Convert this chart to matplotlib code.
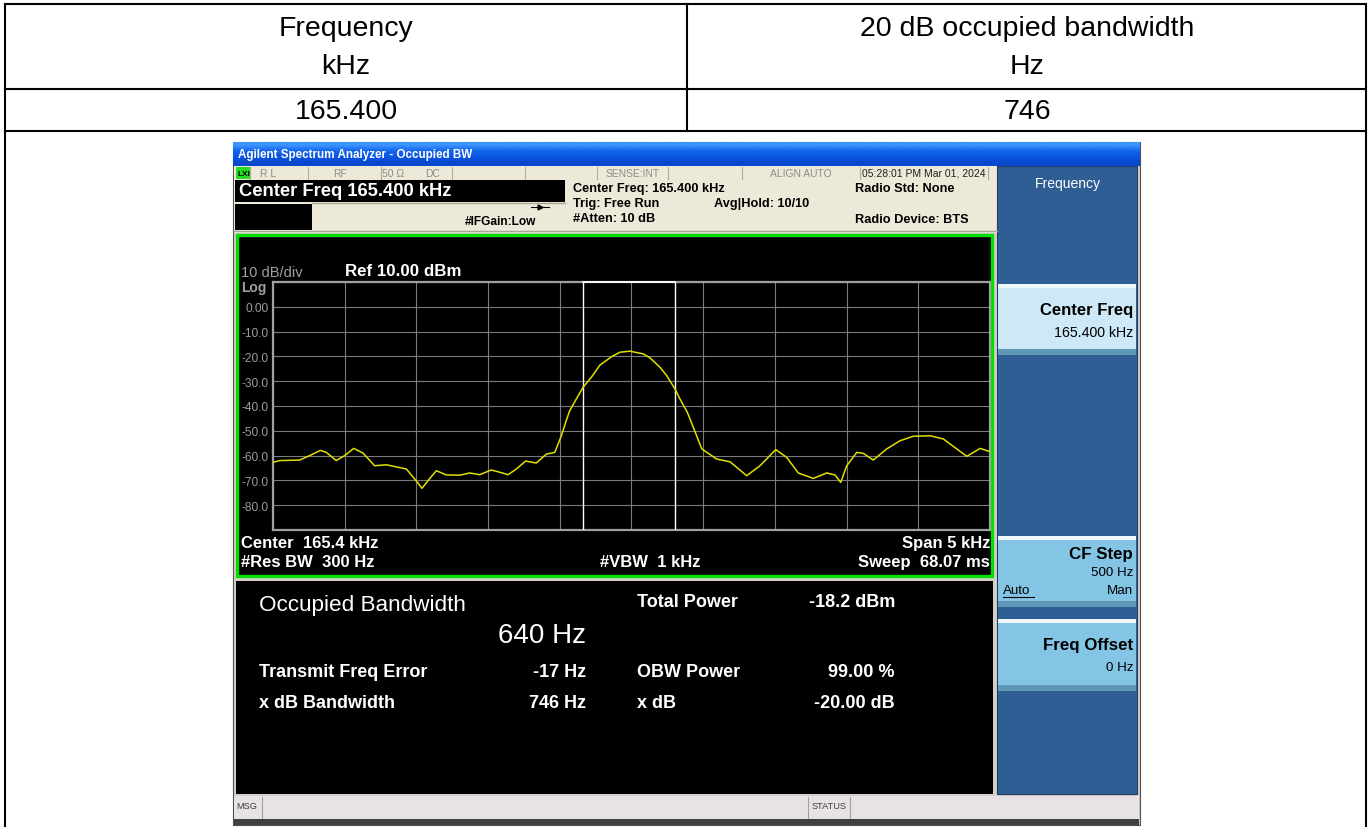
import numpy as np
import matplotlib
matplotlib.use("Agg")
import matplotlib.pyplot as plt
from matplotlib.patches import Rectangle

plt.rcParams['font.family'] = ['Liberation Sans', 'DejaVu Sans']

# --- table data ---
col_headers = [("Frequency", "kHz"), ("20 dB occupied bandwidth", "Hz")]
row_values = ["165.400", "746"]

# --- analyzer settings (as shown on screen) ---
center_khz = 165.4
span_khz = 5.0
ref_dbm = 10.0
db_per_div = 10.0
obw_khz = 0.640
freq_error_khz = -0.017

# trace (kHz, dBm)
trace_freq_khz = [162.900, 162.947, 163.086, 163.156, 163.230, 163.272, 163.341, 163.400,
                  163.463, 163.528, 163.609, 163.690, 163.830, 163.888, 163.939, 163.981,
                  164.039, 164.109, 164.202, 164.272, 164.341, 164.422, 164.481, 164.539,
                  164.597, 164.662, 164.736, 164.806, 164.865, 164.911, 164.945, 164.969,
                  165.015, 165.062, 165.120, 165.180, 165.264, 165.320, 165.390, 165.482,
                  165.529, 165.599, 165.646, 165.703, 165.738, 165.789, 165.808, 165.890,
                  165.994, 166.087, 166.203, 166.296, 166.406, 166.482, 166.563, 166.668,
                  166.761, 166.819, 166.859, 166.901, 166.971, 167.017, 167.086, 167.180,
                  167.273, 167.365, 167.482, 167.575, 167.668, 167.738, 167.831, 167.900]
trace_level_dbm = [-62.7, -62.0, -61.8, -60.0, -57.9, -58.7, -62.0, -60.0,
                   -57.1, -59.0, -64.1, -63.7, -65.4, -69.4, -73.2, -70.1,
                   -66.1, -67.8, -67.9, -67.0, -67.7, -65.8, -66.7, -67.7,
                   -65.4, -62.2, -63.0, -59.4, -58.7, -52.0, -45.9, -41.9,
                   -37.2, -32.5, -28.4, -23.5, -20.0, -18.3, -17.9, -19.0,
                   -20.6, -24.4, -27.8, -33.1, -37.2, -42.5, -45.2, -57.3,
                   -61.4, -62.5, -68.1, -64.1, -57.6, -60.7, -67.0, -69.2,
                   -67.0, -67.8, -70.8, -64.1, -58.7, -59.1, -61.8, -57.3,
                   -54.0, -52.2, -52.0, -53.3, -57.3, -60.3, -57.1, -58.4]

y_tick_labels = ["", "-80.0", "-70.0", "-60.0", "-50.0", "-40.0", "-30.0", "-20.0", "-10.0", "0.00", ""]

# measurement results
meas_left = [("Transmit Freq Error", "-17 Hz"), ("x dB Bandwidth", "746 Hz")]
meas_right = [("Total Power", "-18.2 dBm"), ("OBW Power", "99.00 %"), ("x dB", "-20.00 dB")]

W, H = 1371, 828
fig = plt.figure(figsize=(W / 100, H / 100), dpi=100)
fig.patch.set_facecolor('white')

# background axes in pixel coordinates
bg = fig.add_axes([0, 0, 1, 1])
bg.set_xlim(0, W)
bg.set_ylim(H, 0)
bg.axis('off')


def rect(x0, y0, x1, y1, fc, ec='none', lw=0, z=1):
    bg.add_patch(Rectangle((x0, y0), x1 - x0, y1 - y0, fc=fc, ec=ec, lw=lw, zorder=z))


def txt(x, y, s, size, color='black', weight='normal', ha='left', va='center', z=5):
    return bg.text(x, y, s, fontsize=size, color=color, fontweight=weight,
                   ha=ha, va=va, zorder=z)


# --- table ---
lw_tab = 1.5
for y in (5, 90, 132):
    bg.plot([5, 1366], [y, y], color='black', lw=lw_tab, zorder=3)
for x in (5, 1366):
    bg.plot([x, x], [5, H], color='black', lw=lw_tab, zorder=3)
bg.plot([687, 687], [5, 132], color='black', lw=lw_tab, zorder=3)

col_centers = [346, 1027]
for cx, (l1, l2), val in zip(col_centers, col_headers, row_values):
    txt(cx, 29, l1, 20.5, ha='center')
    txt(cx, 67, l2, 20.5, ha='center')
    txt(cx, 112, val, 20.5, ha='center')

# --- analyzer screenshot frame ---
rect(233, 143, 1140, 826, '#D4D0C8', ec='#505050', lw=0.8)
grad = np.array([[61, 149, 255], [20, 100, 235], [10, 85, 225], [8, 72, 205]]) / 255.0
bg.imshow(grad.reshape(4, 1, 3), extent=(233, 1140, 167, 143), aspect='auto', zorder=2,
          interpolation='bilinear')
txt(238, 155, "Agilent Spectrum Analyzer - Occupied BW", 8.4, 'white', 'bold', z=6)

# status row
rect(234, 167, 997, 181, '#ECE9D8', z=2)
rect(236, 168, 250, 180, '#22DD22', z=3)
txt(237, 174, "LXI", 6, 'black', 'bold', z=6)
for x in (250, 308, 381, 452, 525, 597, 668, 742, 860, 988):
    bg.plot([x, x], [168, 180], color='#B0ACA0', lw=0.8, zorder=3)
status_items = [(268, "R L"), (340, "RF"), (393, "50 \u03a9"), (432, "DC"),
                (633, "SENSE:INT"), (801, "ALIGN AUTO")]
for x, s in status_items:
    txt(x, 174, s, 7.4, '#8C8C8C', ha='center')
txt(862, 174, "05:28:01 PM Mar 01, 2024", 7.5, '#202020')

# header info
rect(234, 181, 997, 234, '#ECE9D8', z=2)
rect(235, 181, 565, 203, 'black', z=3)
txt(239, 192, "Center Freq 165.400 kHz", 13.2, 'white', 'bold')
rect(235, 205, 312, 231, 'black', z=3)
bg.plot([312, 565], [204, 204], color='#A8A498', lw=1, zorder=3)
bg.plot([234, 997], [232, 232], color='#A8A498', lw=1, zorder=3)
bg.plot([531, 549], [208, 208], color='black', lw=0.8, zorder=4)
bg.plot([540], [208], marker='>', color='black', ms=3.5, zorder=4)
txt(465, 222, "#IFGain:Low", 8.6, 'black', 'bold')
txt(573, 189, "Center Freq: 165.400 kHz", 9.2, 'black', 'bold')
txt(573, 204, "Trig: Free Run", 9.2, 'black', 'bold')
txt(573, 219, "#Atten: 10 dB", 9.2, 'black', 'bold')
txt(714, 204, "Avg|Hold: 10/10", 9.2, 'black', 'bold')
txt(855, 189, "Radio Std: None", 9.2, 'black', 'bold')
txt(855, 220, "Radio Device: BTS", 9.2, 'black', 'bold')

# spectrum window frame
rect(237, 236, 992, 577, 'black', ec='#00E000', lw=2.4, z=2)
txt(241, 273, "10 dB/div", 10.5, '#A0A0A0')
txt(241, 288, "Log", 10, '#A0A0A0', 'bold')
txt(345, 272, "Ref 10.00 dBm", 12.2, 'white', 'bold')
txt(241, 544, "Center  165.4 kHz", 12, 'white', 'bold')
txt(241, 563, "#Res BW  300 Hz", 12, 'white', 'bold')
txt(600, 563, "#VBW  1 kHz", 12, 'white', 'bold')
txt(990, 544, "Span 5 kHz", 12, 'white', 'bold', ha='right')
txt(990, 563, "Sweep  68.07 ms", 12, 'white', 'bold', ha='right')

# measurement area
rect(236, 582, 993, 795, 'black', z=2)
txt(259, 606, "Occupied Bandwidth", 16.2, 'white')
txt(586, 636, "640 Hz", 20, 'white', ha='right')
for i, (lab, val) in enumerate(meas_left):
    y = 673 + i * 31
    txt(259, y, lab, 13, 'white', 'bold')
    txt(586, y, val, 13, 'white', 'bold', ha='right')
for (lab, val), y in zip(meas_right, (603, 673, 704)):
    txt(637, y, lab, 13, 'white', 'bold')
    txt(895, y, val, 13, 'white', 'bold', ha='right')

# right softkey panel
rect(997, 167, 1137, 795, '#2F5E95', ec='#1E3E66', lw=0.8, z=2)
txt(1068, 184, "Frequency", 10, 'white', ha='center')
keys = [(285, 356, '#CDE8F6', [("Center Freq", 12, 'bold', 311), ("165.400 kHz", 10.2, 'normal', 333)]),
        (537, 608, '#84C5E6', [("CF Step", 12.2, 'bold', 555), ("500 Hz", 9.6, 'normal', 573)]),
        (620, 692, '#84C5E6', [("Freq Offset", 12.2, 'bold', 646), ("0 Hz", 9.6, 'normal', 668)])]
for y0, y1, col, lines in keys:
    rect(998, y0, 1136, y1, col, z=3)
    rect(998, y0, 1136, y0 + 4, '#EEF8FD', z=3)
    rect(998, y1 - 6, 1136, y1, '#5E97B8', z=3)
    for s, size, wt, y in lines:
        txt(1133, y, s, size, 'black', wt, ha='right')
txt(1003, 591, "Auto", 9.6, 'black')
bg.plot([1003, 1034], [598, 598], color='black', lw=0.8, zorder=6)
txt(1133, 591, "Man", 9.6, 'black', ha='right')

# message bar
rect(234, 797, 1139, 820, '#E6E2E6', z=2)
rect(234, 820, 1139, 826, '#404040', z=2)
for x in (262, 808, 850):
    bg.plot([x, x], [798, 819], color='#A0A0A0', lw=0.8, zorder=3)
txt(236, 807, "MSG", 6.6, '#404040')
txt(829, 807, "STATUS", 6.6, '#404040', ha='center')

# --- spectrum plot ---
x0, x1, y0, y1 = 273, 990, 283, 531
ax = fig.add_axes([x0 / W, 1 - y1 / H, (x1 - x0) / W, (y1 - y0) / H])
ax.set_facecolor('black')
f_lo, f_hi = center_khz - span_khz / 2, center_khz + span_khz / 2
ax.set_xlim(f_lo, f_hi)
ax.set_ylim(ref_dbm - 10 * db_per_div, ref_dbm)
ax.set_xticks(np.linspace(f_lo, f_hi, 11))
ax.set_xticklabels([])
ax.set_yticks(np.arange(ref_dbm - 10 * db_per_div, ref_dbm + 1, db_per_div))
ax.set_yticklabels(y_tick_labels)
ax.tick_params(length=0, colors='#9C9C9C', labelsize=8.6, pad=3)
ax.grid(color='#7A7A7A', lw=0.8)
for sp in ax.spines.values():
    sp.set_color('#A0A0A0')
    sp.set_linewidth(1.6)

# OBW markers
obw_center = center_khz + freq_error_khz
obw_edges = [obw_center - obw_khz / 2, obw_center + obw_khz / 2]
for fx in obw_edges:
    ax.axvline(fx, color='white', lw=1.0, zorder=3)
ax.plot(obw_edges, [ref_dbm, ref_dbm], color='white', lw=1.3, zorder=4, clip_on=False)

ax.plot(trace_freq_khz, trace_level_dbm, color='#E0E000', lw=1.1, zorder=5)

fig.savefig('out.png', dpi=100, facecolor='white')
